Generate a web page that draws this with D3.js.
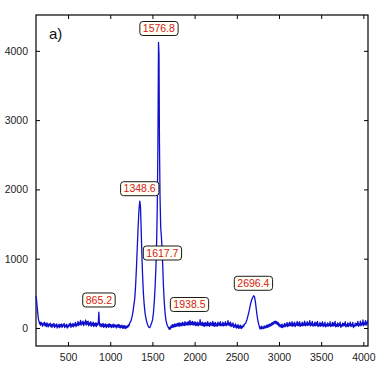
<!DOCTYPE html>
<html>
<head>
<meta charset="utf-8">
<script src="https://cdn.jsdelivr.net/npm/d3@7"></script>
<style>
  body { margin: 0; background: #fff; }
  svg { display: block; font-family: Arial, "Liberation Sans", sans-serif; }
</style>
</head>
<body>
<svg id="chart" width="378" height="367"></svg>
<script>
// spectrum: [raman shift, counts]
var spectrum = [
  [120,460],[126,410],[132,330],[138,250],[144,180],[150,120],[156,95],[162,60],[168,85],
  [175,40],[183,80],[190,55],[198,25],[205,70],[213,45],[220,85],[228,30],[235,62],[243,20],
  [250,75],[258,40],[265,15],[273,60],[280,35],[288,70],[295,20],[303,50],[310,10],[318,55],
  [325,30],[333,65],[340,5],[348,45],[355,25],[363,60],[370,0],[378,40],[385,15],[393,55],
  [400,5],[408,48],[415,20],[423,60],[430,10],[438,45],[445,30],[453,65],[460,5],[468,40],
  [475,20],[483,55],[490,0],[498,35],[505,15],[513,60],[520,30],[528,70],[535,10],[543,50],
  [550,25],[558,65],[565,15],[573,55],[580,35],[588,80],[595,20],[603,60],[610,40],[618,95],
  [625,35],[633,75],[640,50],[648,110],[655,40],[663,85],[670,55],[678,100],[685,35],[693,80],
  [700,60],[708,115],[715,40],[723,90],[730,55],[738,100],[745,30],[753,75],[760,45],[768,90],
  [775,25],[783,70],[790,40],[798,85],[805,20],[813,65],[820,35],[828,75],[835,20],[843,70],
  [850,40],[858,60],[865,230],[870,90],[876,30],[885,60],[893,15],[900,55],[908,25],[915,65],
  [923,10],[930,50],[938,20],[945,60],[953,5],[960,45],[968,20],[975,55],[983,10],[990,60],
  [998,25],[1005,50],[1013,5],[1020,45],[1028,15],[1035,55],[1043,10],[1050,48],[1058,20],
  [1065,40],[1073,0],[1080,45],[1088,15],[1095,50],[1103,10],[1110,45],[1118,0],[1125,35],
  [1133,10],[1140,40],[1148,-5],[1155,30],[1163,0],[1170,35],[1178,-10],[1185,25],[1193,0],
  [1200,30],[1208,10],[1215,45],[1223,30],[1230,70],[1245,100],[1258,160],[1270,240],[1280,330],
  [1290,420],[1300,600],[1310,850],[1320,1150],[1330,1450],[1340,1700],[1350,1830],
  [1358,1760],[1366,1450],[1374,1100],[1382,800],[1392,520],[1402,340],[1414,200],
  [1428,110],[1442,50],[1455,15],[1468,5],[1480,40],[1492,80],[1502,120],[1512,220],
  [1522,380],[1532,600],[1542,900],[1550,1250],[1558,1800],[1565,2650],[1572,4120],
  [1578,3950],[1583,2700],[1590,1900],[1598,1450],[1606,1320],[1614,1150],[1622,900],
  [1630,620],[1640,380],[1650,210],[1662,100],[1675,40],[1690,5],[1698,-20],[1705,10],
  [1713,-15],[1720,30],[1728,5],[1735,50],[1743,10],[1750,45],[1758,15],[1765,60],[1773,20],
  [1780,55],[1788,25],[1795,65],[1803,30],[1810,70],[1818,25],[1825,75],[1833,35],[1840,65],
  [1848,30],[1855,80],[1863,40],[1870,70],[1878,35],[1885,90],[1893,40],[1900,75],[1908,45],
  [1915,85],[1923,40],[1930,90],[1938,50],[1945,110],[1953,45],[1960,85],[1968,50],[1975,95],
  [1983,40],[1990,80],[1998,45],[2005,90],[2013,35],[2020,75],[2028,40],[2035,85],[2043,30],
  [2050,70],[2058,45],[2065,120],[2073,40],[2080,75],[2088,35],[2095,85],[2103,30],[2110,65],
  [2118,25],[2125,80],[2133,35],[2140,70],[2148,30],[2155,90],[2163,35],[2170,65],[2178,25],
  [2185,80],[2193,40],[2200,70],[2208,35],[2215,95],[2223,30],[2230,70],[2238,25],[2245,80],
  [2253,30],[2260,60],[2268,25],[2275,85],[2283,40],[2290,70],[2298,35],[2305,90],[2313,30],
  [2320,60],[2328,35],[2335,85],[2343,30],[2350,65],[2358,40],[2365,90],[2373,30],[2380,65],
  [2388,45],[2395,105],[2403,40],[2410,75],[2418,35],[2425,85],[2433,20],[2440,55],[2448,30],
  [2455,75],[2463,10],[2470,40],[2478,15],[2485,60],[2493,0],[2500,35],[2508,5],[2515,50],
  [2523,-5],[2530,30],[2538,0],[2545,40],[2553,-10],[2560,20],[2568,5],[2575,40],[2583,25],
  [2590,55],[2605,70],[2620,120],[2635,190],[2650,270],[2662,340],
  [2675,400],[2688,440],[2700,465],[2710,450],[2720,380],[2730,280],[2740,180],
  [2752,90],[2765,30],[2773,-10],[2780,15],[2788,-15],[2795,25],[2803,-5],[2810,10],[2818,-10],
  [2825,30],[2833,0],[2840,25],[2848,5],[2855,40],[2863,10],[2870,45],[2878,15],[2885,55],
  [2893,25],[2900,60],[2908,35],[2915,75],[2923,45],[2930,85],[2938,55],[2945,95],[2953,70],
  [2960,100],[2968,60],[2975,90],[2983,50],[2990,80],[2998,30],[3005,60],[3013,15],[3020,45],
  [3028,10],[3035,55],[3043,5],[3050,40],[3058,20],[3065,65],[3073,15],[3080,55],[3088,30],
  [3095,80],[3103,20],[3110,60],[3118,30],[3125,85],[3133,35],[3140,70],[3148,30],[3155,90],
  [3163,25],[3170,65],[3178,35],[3185,85],[3193,20],[3200,60],[3208,40],[3215,95],[3223,35],
  [3230,75],[3238,30],[3245,90],[3253,25],[3260,60],[3268,35],[3275,85],[3283,30],[3290,70],
  [3298,40],[3305,100],[3313,30],[3320,65],[3328,40],[3335,90],[3343,35],[3350,75],[3358,45],
  [3365,105],[3373,30],[3380,70],[3388,40],[3395,95],[3403,25],[3410,60],[3418,35],[3425,85],
  [3433,30],[3440,75],[3448,40],[3455,95],[3463,20],[3470,55],[3478,30],[3485,80],[3493,25],
  [3500,65],[3508,35],[3515,90],[3523,20],[3530,60],[3538,30],[3545,85],[3553,15],[3560,50],
  [3568,30],[3575,75],[3583,25],[3590,60],[3598,35],[3605,90],[3613,20],[3620,55],[3628,30],
  [3635,80],[3643,25],[3650,70],[3658,35],[3665,95],[3673,15],[3680,50],[3688,25],[3695,75],
  [3703,20],[3710,60],[3718,35],[3725,85],[3733,10],[3740,45],[3748,25],[3755,70],[3763,30],
  [3770,65],[3778,35],[3785,90],[3793,15],[3800,50],[3808,25],[3815,75],[3823,20],[3830,60],
  [3838,35],[3845,85],[3853,20],[3860,55],[3868,30],[3875,80],[3883,5],[3890,40],[3898,25],
  [3905,70],[3913,30],[3920,65],[3928,40],[3935,95],[3943,25],[3950,60],[3958,40],[3965,100],
  [3973,30],[3980,70],[3988,45],[3995,115],[4003,35],[4010,75],[4018,50],[4025,105],[4033,40],
  [4040,80],[4046,55],[4050,110]
];

// peak markers: text, where it points, and the counts level the box sits at
var peakText = ["865.2", "1348.6", "1576.8", "1617.7", "1938.5", "2696.4"];
var peakShift = [865.2, 1348.6, 1576.8, 1617.7, 1938.5, 2696.4];
var peakBoxCounts = [404, 2010, 4322, 1082, 339, 645];

var xTicks = [500, 1000, 1500, 2000, 2500, 3000, 3500, 4000];
var yTicks = [0, 1000, 2000, 3000, 4000];
var panelLabel = "a)";

// plot box (note: "top" is reserved on window, so use other names)
var boxL = 36, boxR = 368, boxT = 15, boxB = 346;

var svg = d3.select("#chart");

var x = d3.scaleLinear().domain([120, 4055]).range([boxL, boxR]);
var y = d3.scaleLinear().domain([-260, 4517]).range([boxB, boxT]);

// frame + inward ticks on all four sides (matlab style)
svg.append("rect")
  .attr("x", boxL).attr("y", boxT)
  .attr("width", boxR - boxL).attr("height", boxB - boxT)
  .attr("fill", "none").attr("stroke", "#000").attr("stroke-width", 1.2);

var tickLen = 4;
function styleAxis(g) {
  g.select(".domain").remove();
  g.selectAll(".tick line").attr("stroke", "#000");
  g.selectAll(".tick text").attr("fill", "#222").style("font-size", "10.5px");
}

svg.append("g")
  .attr("transform", "translate(0," + boxB + ")")
  .call(d3.axisBottom(x).tickValues(xTicks).tickSize(-tickLen).tickPadding(8).tickFormat(d3.format("d")))
  .call(styleAxis);
svg.append("g")
  .attr("transform", "translate(0," + boxT + ")")
  .call(d3.axisTop(x).tickValues(xTicks).tickSize(-tickLen).tickFormat(""))
  .call(styleAxis);
svg.append("g")
  .attr("transform", "translate(" + boxL + ",0)")
  .call(d3.axisLeft(y).tickValues(yTicks).tickSize(-tickLen).tickPadding(8).tickFormat(d3.format("d")))
  .call(styleAxis);
svg.append("g")
  .attr("transform", "translate(" + boxR + ",0)")
  .call(d3.axisRight(y).tickValues(yTicks).tickSize(-tickLen).tickFormat(""))
  .call(styleAxis);

// the spectrum
var line = d3.line()
  .x(function(d) { return x(d[0]); })
  .y(function(d) { return y(d[1]); });

svg.append("path")
  .datum(spectrum)
  .attr("d", line)
  .attr("fill", "none")
  .attr("stroke", "#1010cc")
  .attr("stroke-width", 1.3)
  .attr("stroke-linejoin", "round");

// peak boxes
var boxes = svg.selectAll(".peak")
  .data(peakText)
  .enter().append("g")
  .attr("class", "peak")
  .attr("transform", function(d, i) {
    return "translate(" + x(peakShift[i]) + "," + y(peakBoxCounts[i]) + ")";
  });

boxes.append("text")
  .attr("text-anchor", "middle")
  .attr("dy", "0.36em")
  .attr("fill", "#d42020")
  .style("font-size", "10.5px")
  .text(function(d) { return d; });

boxes.each(function() {
  var g = d3.select(this);
  var bb = g.select("text").node().getBBox();
  g.insert("rect", "text")
    .attr("x", bb.x - 3).attr("y", -7)
    .attr("width", bb.width + 6).attr("height", 14)
    .attr("rx", 3)
    .attr("fill", "#fffff4")
    .attr("stroke", "#000")
    .attr("stroke-width", 0.9);
});

svg.append("text")
  .attr("x", 49).attr("y", 39)
  .attr("fill", "#111")
  .style("font-size", "15px")
  .text(panelLabel);
</script>
</body>
</html>
